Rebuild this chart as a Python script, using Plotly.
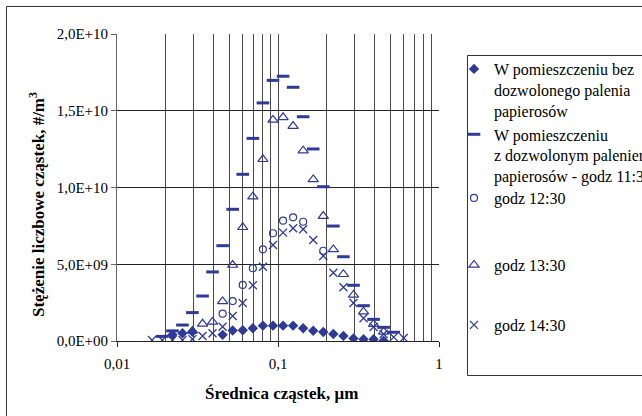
import plotly.graph_objects as go

# Particle diameters (µm) - SMPS channel midpoints
diameters = [0.0165, 0.0191, 0.0221, 0.0255, 0.0294, 0.0340, 0.0392, 0.0453, 0.0523,
             0.0604, 0.0698, 0.0806, 0.0931, 0.1075, 0.1241, 0.1433, 0.1655, 0.1911,
             0.2207, 0.2548, 0.2943, 0.3398, 0.3924, 0.4531, 0.5233, 0.6043]

# Series values (#/m3)
bez_palenia = [None, None, 4.0e8, 5.0e8, 6.0e8, None, None, 4.0e8, 6.8e8,
               7.0e8, 8.3e8, 1.0e9, 1.0e9, 1.0e9, 1.0e9, 8.3e8, 6.7e8, 5.9e8,
               4.6e8, 3.3e8, 1.7e8, 1.1e8, 1.1e8, 2.0e7, None, None]
godz_1130 = [None, 3.0e8, 6.6e8, 1.04e9, 1.85e9, 2.93e9, 4.5e9, 6.21e9, 8.58e9,
             1.086e10, 1.32e10, 1.551e10, 1.698e10, 1.725e10, 1.653e10, 1.461e10, 1.251e10, 1.005e10,
             7.49e9, 5.49e9, 3.63e9, 2.30e9, 1.41e9, 8.9e8, 5.7e8, None]
godz_1230 = [None, None, None, None, None, None, None, 1.78e9, 2.6e9,
             3.65e9, 4.74e9, 5.97e9, 7.02e9, 7.84e9, 8.06e9, 7.77e9, None, 5.88e9,
             None, None, None, None, None, None, None, None]
godz_1330 = [None, None, None, None, 6.5e8, 1.12e9, 1.24e9, 2.58e9, 4.95e9,
             7.41e9, 9.40e9, 1.184e10, 1.44e10, 1.457e10, 1.40e10, 1.24e10, 1.053e10, 8.14e9,
             5.97e9, 4.35e9, 3.0e9, 1.91e9, 1.1e9, 6.0e8, None, None]
godz_1430 = [6e7, 6e7, 6e7, 6e7, 1.2e8, 3.3e8, 5.0e8, 9.3e8, 1.63e9,
             2.48e9, 3.63e9, 4.84e9, 6.25e9, 7.06e9, 7.34e9, 7.28e9, 6.58e9, 5.54e9,
             4.45e9, 3.5e9, 2.48e9, 1.48e9, 9.1e8, 4.6e8, 2.5e8, 2.0e8]

series_names = [
    "W pomieszczeniu bez<br>dozwolonego palenia<br>papierosów",
    "W pomieszczeniu<br>z dozwolonym paleniem<br>papierosów - godz 11:30",
    "godz 12:30",
    "godz 13:30",
    "godz 14:30",
]

x_ticks = [0.01, 0.1, 1]
x_ticktext = ["0,01", "0,1", "1"]
x_minor = [0.02, 0.03, 0.04, 0.05, 0.06, 0.07, 0.08, 0.09,
           0.2, 0.3, 0.4, 0.5, 0.6, 0.7, 0.8, 0.9]
y_ticks = [0, 5e9, 1e10, 1.5e10, 2e10]
y_ticktext = ["0,0E+00", "5,0E+09", "1,0E+10", "1,5E+10", "2,0E+10"]

C = "#2E3A97"
SERIF = "Liberation Serif, Times New Roman, DejaVu Serif, serif"

fig = go.Figure()
fig.add_trace(go.Scatter(x=diameters, y=bez_palenia, mode="markers", name=series_names[0], legend="legend",
                         marker=dict(symbol="diamond", size=8, color=C, line=dict(width=0))))
fig.add_trace(go.Scatter(x=diameters, y=godz_1130, mode="markers", name=series_names[1], legend="legend",
                         marker=dict(symbol="line-ew", size=9, color=C, line=dict(width=3, color=C))))
fig.add_trace(go.Scatter(x=diameters, y=godz_1230, mode="markers", name=series_names[2], legend="legend2",
                         marker=dict(symbol="circle-open", size=7, color=C, line=dict(width=1.2, color=C))))
fig.add_trace(go.Scatter(x=diameters, y=godz_1330, mode="markers", name=series_names[3], legend="legend3",
                         marker=dict(symbol="triangle-up-open", size=9, color=C, line=dict(width=1.2, color=C))))
fig.add_trace(go.Scatter(x=diameters, y=godz_1430, mode="markers", name=series_names[4], legend="legend4",
                         marker=dict(symbol="x-thin-open", size=8, color=C, line=dict(width=1.3, color=C))))

GRID = "#4a4a4a"
fig.update_xaxes(type="log", range=[-2, 0], tickmode="array", tickvals=x_ticks, ticktext=x_ticktext,
                 showgrid=True, gridcolor=GRID, gridwidth=1,
                 minor=dict(tickmode="array", tickvals=x_minor, showgrid=True, gridcolor=GRID, gridwidth=1, ticks=""),
                 showline=True, linecolor="#222", linewidth=1, ticks="outside", ticklen=5, tickcolor="#222",
                 ticklabelstandoff=4,
                 tickfont=dict(family=SERIF, size=15, color="black"), zeroline=False)
fig.update_yaxes(range=[0, 2e10], tickmode="array", tickvals=y_ticks, ticktext=y_ticktext,
                 showgrid=True, gridcolor="#222", gridwidth=1,
                 showline=True, linecolor="#666", linewidth=1, ticks="outside", ticklen=5, tickcolor="#666",
                 tickfont=dict(family=SERIF, size=15, color="black"), zeroline=False)

LEG_X = 1.0466
leg_common = dict(x=LEG_X, xanchor="left", yanchor="top", valign="top",
                  font=dict(family=SERIF, size=16, color="black"),
                  bgcolor="rgba(0,0,0,0)", borderwidth=0)

fig.update_layout(
    width=642, height=416,
    margin=dict(l=117, r=203, t=34, b=75, autoexpand=False),
    paper_bgcolor="white", plot_bgcolor="white",
    showlegend=True,
    legend=dict(y=0.9414, **leg_common),
    legend2=dict(y=0.5212, **leg_common),
    legend3=dict(y=0.3029, **leg_common),
    legend4=dict(y=0.1075, **leg_common),
    shapes=[
        dict(type="rect", xref="paper", yref="paper", x0=-0.3432, x1=2.0, y0=-0.6, y1=1.0896,
             line=dict(color="#333", width=1), fillcolor="rgba(0,0,0,0)", layer="below"),
        dict(type="rect", xref="paper", yref="paper", x0=1.0885, x1=2.0, y0=-0.1124, y1=0.930,
             line=dict(color="#333", width=1), fillcolor="rgba(0,0,0,0)"),
    ],
    annotations=[
        dict(text="<b>Stężenie liczbowe cząstek, #/m<sup>3</sup></b>", xref="paper", yref="paper",
             x=-0.2484, y=0.443, textangle=-90, showarrow=False, xanchor="center", yanchor="middle",
             font=dict(family=SERIF, size=17, color="black")),
        dict(text="<b>Średnica cząstek, μm</b>", xref="paper", yref="paper",
             x=0.5124, y=-0.1694, showarrow=False, xanchor="center", yanchor="middle",
             font=dict(family=SERIF, size=17, color="black")),
    ],
    hovermode=False,
)

fig.write_html("out.html", config={"displayModeBar": False},
               post_script="document.body.style.margin='0';document.body.style.padding='0';")
